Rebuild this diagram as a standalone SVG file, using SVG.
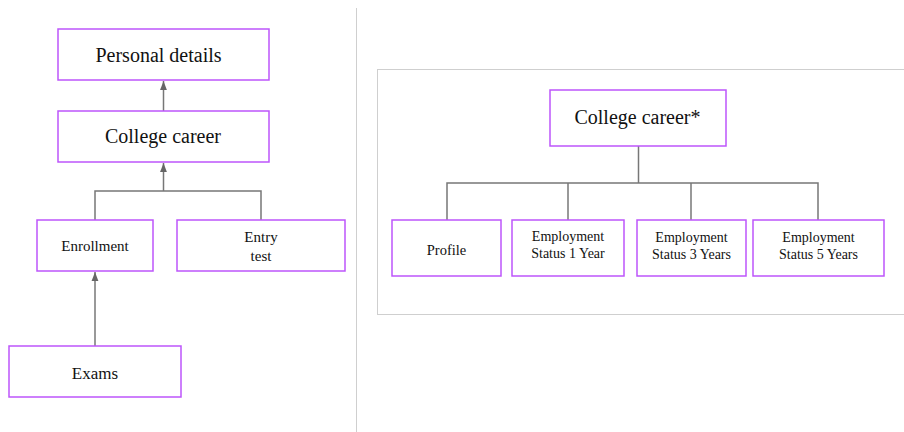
<svg xmlns="http://www.w3.org/2000/svg" width="904" height="432" viewBox="0 0 904 432">
<defs>
<style>
.node rect{fill:#fff;stroke:#bd55fb;stroke-width:1.5}
text{font-family:"Liberation Serif","Times New Roman",serif;fill:#111;text-anchor:middle}
.c{fill:none;stroke:#777;stroke-width:1.5}
.frame{fill:none;stroke:#cfcfcf;stroke-width:1}
</style>
<marker id="ah2" viewBox="0 0 10 10" refX="10" refY="5" markerWidth="9" markerHeight="9" markerUnits="userSpaceOnUse" orient="auto">
<path d="M0,1.2 L10,5 L0,8.8 Z" fill="#666"/>
</marker>
</defs>
<rect width="904" height="432" fill="#fff"/>
<line x1="356.5" y1="8" x2="356.5" y2="432" stroke="#cfcfcf" stroke-width="1"/>
<rect class="frame" x="377.5" y="69.5" width="530" height="245"/>
<g id="connectors">
<line class="c" x1="163.5" y1="111" x2="163.5" y2="81" marker-end="url(#ah2)"/>
<polyline class="c" points="95,220 95,191 261,191 261,220"/>
<line class="c" x1="163.5" y1="191" x2="163.5" y2="163" marker-end="url(#ah2)"/>
<line class="c" x1="95" y1="346" x2="95" y2="272" marker-end="url(#ah2)"/>
<line class="c" x1="638.5" y1="146" x2="638.5" y2="183"/>
<polyline class="c" points="447,220 447,183 818,183 818,220"/>
<line class="c" x1="568" y1="183" x2="568" y2="220"/>
<line class="c" x1="691" y1="183" x2="691" y2="220"/>
</g>
<g id="personal-details" class="node"><rect x="58" y="29" width="211" height="51"/><text x="158.5" y="62" font-size="20">Personal details</text></g>
<g id="college-career" class="node"><rect x="58" y="111" width="211" height="51"/><text x="163" y="143" font-size="20">College career</text></g>
<g id="enrollment" class="node"><rect x="37" y="220" width="116" height="51"/><text x="95" y="251" font-size="15">Enrollment</text></g>
<g id="entry-test" class="node"><rect x="177" y="220" width="168" height="51"/><text x="261" y="242" font-size="15">Entry</text><text x="261" y="261" font-size="15">test</text></g>
<g id="exams" class="node"><rect x="9" y="346" width="172" height="51"/><text x="95" y="379" font-size="17">Exams</text></g>
<g id="college-career-star" class="node"><rect x="550" y="90" width="176" height="56"/><text x="637.5" y="124" font-size="20">College career*</text></g>
<g id="profile" class="node"><rect x="392" y="220" width="109" height="56"/><text x="446.5" y="255" font-size="14.5">Profile</text></g>
<g id="emp1" class="node"><rect x="512" y="220" width="112" height="56"/><text x="568" y="241" font-size="14">Employment</text><text x="568" y="258" font-size="14">Status 1 Year</text></g>
<g id="emp3" class="node"><rect x="637" y="220" width="109" height="56"/><text x="691.5" y="242" font-size="14">Employment</text><text x="691.5" y="259" font-size="14">Status 3 Years</text></g>
<g id="emp5" class="node"><rect x="753" y="220" width="131" height="56"/><text x="818.5" y="242" font-size="14">Employment</text><text x="818.5" y="259" font-size="14">Status 5 Years</text></g>
</svg>
